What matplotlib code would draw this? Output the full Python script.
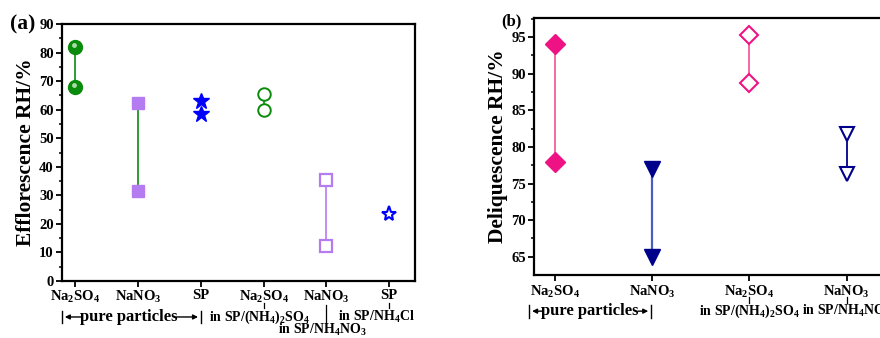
import numpy as np
import matplotlib
matplotlib.use('Agg')
import matplotlib.pyplot as plt
import matplotlib.transforms as mtransforms

plt.rcParams['font.family'] = 'Liberation Serif'
plt.rcParams['font.weight'] = 'bold'
plt.rcParams['mathtext.fontset'] = 'custom'
plt.rcParams['mathtext.rm'] = 'Liberation Serif:bold'
plt.rcParams['mathtext.bf'] = 'Liberation Serif:bold'
plt.rcParams['mathtext.default'] = 'bf'

# panel (a): efflorescence RH
eff_labels = ['Na$_2$SO$_4$', 'NaNO$_3$', 'SP', 'Na$_2$SO$_4$', 'NaNO$_3$', 'SP']
eff_hi = [82.0, 62.4, 63.1, 65.4, 35.4, 23.4]
eff_lo = [67.8, 31.6, 58.4, 59.9, 12.4, None]

# panel (b): deliquescence RH
del_labels = ['Na$_2$SO$_4$', 'NaNO$_3$', 'Na$_2$SO$_4$', 'NaNO$_3$']
del_hi = [94.0, 77.0, 95.3, 81.8]
del_lo = [78.0, 65.0, 88.7, 76.3]

green = '#0B8B0B'
purple = '#B47CF0'
blue = '#0000FF'
pink = '#EE1285'
navy = '#00008B'

fig = plt.figure(figsize=(8.8, 3.38), dpi=100)
ax1 = fig.add_axes([0.0705, 0.1686, 0.401, 0.760])
ax2 = fig.add_axes([0.607, 0.186, 0.405, 0.761])


def style_axis(ax):
    for s in ax.spines.values():
        s.set_linewidth(1.6)
    ax.tick_params(axis='both', which='major', direction='out', length=4, width=1.3,
                   labelsize=10.5, pad=2)
    ax.tick_params(axis='y', which='minor', direction='out', length=2.5, width=1.1)
    ax.tick_params(axis='x', which='minor', bottom=False)
    for lab in ax.get_xticklabels() + ax.get_yticklabels():
        lab.set_fontweight('bold')


def bracket(ax, tr, x0, x1, t0, t1, tc, y):
    # |<-- pure particles -->|
    ax.text(tc, y, 'pure particles', transform=tr, ha='center', va='center', fontsize=12,
            fontweight='bold', clip_on=False)
    ax.annotate('', xy=(x0, y), xytext=(t0, y), xycoords=tr, textcoords=tr,
                arrowprops=dict(arrowstyle='-|>', lw=1.0, color='black', mutation_scale=7))
    ax.annotate('', xy=(x1, y), xytext=(t1, y), xycoords=tr, textcoords=tr,
                arrowprops=dict(arrowstyle='-|>', lw=1.0, color='black', mutation_scale=7))
    ax.plot([x0, x0], [y - 0.025, y + 0.025], color='black', lw=1.0, transform=tr, clip_on=False)
    ax.plot([x1, x1], [y - 0.025, y + 0.025], color='black', lw=1.0, transform=tr, clip_on=False)


# ---- panel (a)
x = np.arange(1, 7)
seg_colors = [green, green, None, green, purple, None]
for i in range(6):
    if eff_lo[i] is not None and seg_colors[i] is not None:
        ax1.plot([x[i], x[i]], [eff_lo[i], eff_hi[i]], color=seg_colors[i], lw=1.2, zorder=1)

# spheres
ax1.plot([x[0], x[0]], [eff_hi[0], eff_lo[0]], 'o', ms=10, color=green, mec=green, ls='none', zorder=2)
hl = mtransforms.offset_copy(ax1.transData, fig=fig, x=-0.8, y=1.5, units='points')
ax1.plot([x[0], x[0]], [eff_hi[0], eff_lo[0]], 'o', ms=3.5, color='#A8DDA8', mec='none', ls='none',
         transform=hl, zorder=3)
ax1.plot([x[1], x[1]], [eff_hi[1], eff_lo[1]], 's', ms=9, color=purple, mec=purple, ls='none', zorder=2)
ax1.plot([x[2], x[2]], [eff_hi[2], eff_lo[2]], '*', ms=12, color=blue, mec=blue, ls='none', zorder=2)
ax1.plot([x[3], x[3]], [eff_hi[3], eff_lo[3]], 'o', ms=9, mfc='white', mec=green, mew=1.4, ls='none', zorder=2)
ax1.plot([x[4], x[4]], [eff_hi[4], eff_lo[4]], 's', ms=8, mfc='white', mec=purple, mew=1.6, ls='none', zorder=2)
ax1.plot([x[5]], [eff_hi[5]], '*', ms=11, mfc='white', mec=blue, mew=1.5, ls='none', zorder=2)

ax1.set_xlim(0.79, 6.41)
ax1.set_ylim(0, 90)
ax1.set_yticks(np.arange(0, 91, 10))
ax1.set_yticks(np.arange(5, 90, 10), minor=True)
ax1.set_xticks(x)
ax1.set_xticklabels(eff_labels)
style_axis(ax1)
ax1.set_ylabel('Efflorescence RH/%', fontsize=15.5, fontweight='bold', labelpad=2)
fig.text(0.011, 0.929, '(a)', fontsize=15.5, fontweight='bold', va='center', ha='left')

tr1 = mtransforms.blended_transform_factory(ax1.transData, ax1.transAxes)
bracket(ax1, tr1, 0.79, 3.0, 1.14, 2.57, 1.85, -0.14)

ax1.text(3.93, -0.14, 'in SP/(NH$_4$)$_2$SO$_4$', transform=tr1, ha='center', va='center',
         fontsize=10, fontweight='bold', clip_on=False)
ax1.text(4.93, -0.19, 'in SP/NH$_4$NO$_3$', transform=tr1, ha='center', va='center',
         fontsize=10, fontweight='bold', clip_on=False)
ax1.text(5.8, -0.14, 'in SP/NH$_4$Cl', transform=tr1, ha='center', va='center',
         fontsize=10, fontweight='bold', clip_on=False)
ax1.plot([4, 4], [-0.086, -0.105], color='black', lw=0.9, transform=tr1, clip_on=False)
ax1.plot([5, 5], [-0.093, -0.16], color='black', lw=0.9, transform=tr1, clip_on=False)
ax1.plot([6, 6], [-0.086, -0.105], color='black', lw=0.9, transform=tr1, clip_on=False)

# ---- panel (b)
xb = np.arange(1, 5)
ax2.plot([xb[0], xb[0]], [del_lo[0], del_hi[0]], color='#F45A9E', lw=1.3, zorder=1)
ax2.plot([xb[1], xb[1]], [del_lo[1], del_hi[1]], color='#4E5CC2', lw=1.6, zorder=1)
ax2.plot([xb[2], xb[2]], [del_lo[2], del_hi[2]], color='#F45A9E', lw=1.3, zorder=1)
ax2.plot([xb[3], xb[3]], [del_lo[3], del_hi[3]], color=navy, lw=1.3, zorder=1)

ax2.plot([xb[0], xb[0]], [del_hi[0], del_lo[0]], 'D', ms=10, color=pink, mec=pink, ls='none', zorder=2)
ax2.plot([xb[1], xb[1]], [del_hi[1], del_lo[1]], 'v', ms=11, color=navy, mec=navy, ls='none', zorder=2)
ax2.plot([xb[2], xb[2]], [del_hi[2], del_lo[2]], 'D', ms=9, mfc='white', mec=pink, mew=1.5, ls='none', zorder=2)
ax2.plot([xb[3], xb[3]], [del_hi[3], del_lo[3]], 'v', ms=10, mfc='white', mec=navy, mew=1.5, ls='none', zorder=2)

ax2.set_xlim(0.79, 4.45)
ax2.set_ylim(62.5, 97.6)
ax2.set_yticks(np.arange(65, 96, 5))
ax2.set_yticks(np.arange(67.5, 97.6, 5), minor=True)
ax2.set_xticks(xb)
ax2.set_xticklabels(del_labels)
style_axis(ax2)
ax2.set_ylabel('Deliquescence RH/%', fontsize=15.5, fontweight='bold', labelpad=2)
fig.text(0.570, 0.937, '(b)', fontsize=12, fontweight='bold', va='center', ha='left')

tr2 = mtransforms.blended_transform_factory(ax2.transData, ax2.transAxes)
bracket(ax2, tr2, 0.74, 1.99, 0.9, 1.83, 1.36, -0.14)

ax2.text(3, -0.14, 'in SP/(NH$_4$)$_2$SO$_4$', transform=tr2, ha='center', va='center',
         fontsize=10, fontweight='bold', clip_on=False)
ax2.text(4, -0.14, 'in SP/NH$_4$NO$_3$', transform=tr2, ha='center', va='center',
         fontsize=10, fontweight='bold', clip_on=False)
ax2.plot([3, 3], [-0.086, -0.109], color='black', lw=0.9, transform=tr2, clip_on=False)
ax2.plot([4, 4], [-0.086, -0.109], color='black', lw=0.9, transform=tr2, clip_on=False)

fig.savefig('out.png', dpi=100)
